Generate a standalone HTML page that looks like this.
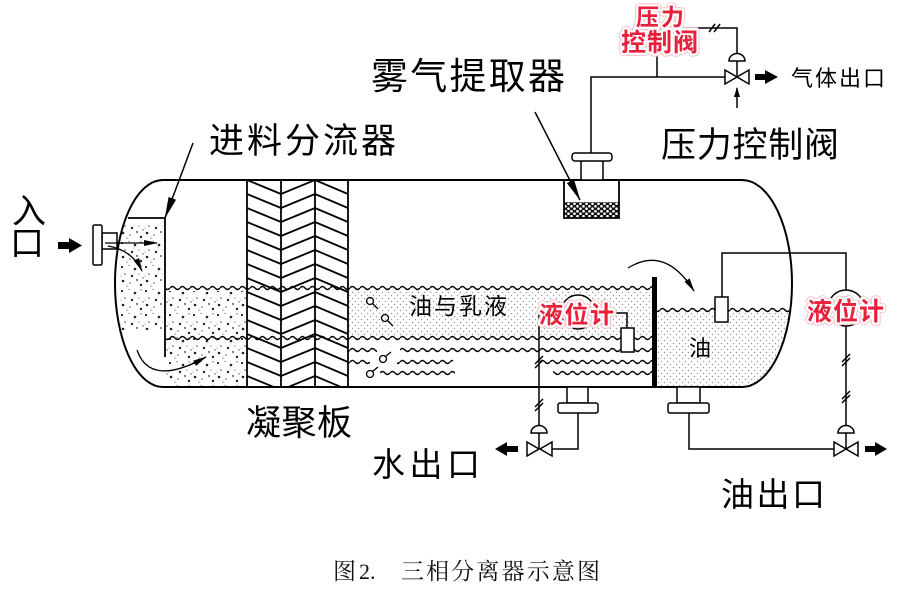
<!DOCTYPE html>
<html>
<head>
<meta charset="utf-8">
<style>
  html,body{margin:0;padding:0;background:#fff;}
  body{width:908px;height:591px;overflow:hidden;}
  svg{display:block;}
  .t{font-family:"Liberation Sans","Noto Sans CJK SC",sans-serif;fill:#000;}
  .r{font-family:"Liberation Sans","Noto Sans CJK SC",sans-serif;font-weight:700;}
  .cap{font-family:"Liberation Serif","Noto Serif CJK SC",serif;fill:#111;}
</style>
</head>
<body>
<svg width="908" height="591" viewBox="0 0 908 591" xmlns="http://www.w3.org/2000/svg">
  <defs>
    <clipPath id="vin">
      <path d="M163,181 L742,181 A49,102.5 0 0 1 742,386 L163,386 A47,102.5 0 0 1 163,181 Z"/>
    </clipPath>
    <clipPath id="plates">
      <rect x="247" y="181" width="101" height="205"/>
    </clipPath>
    <pattern id="wv" width="10" height="8" patternUnits="userSpaceOnUse">
      <path d="M0,4 Q2.5,1 5,4 T10,4" fill="none" stroke="#000" stroke-width="1.4"/>
    </pattern>
    <pattern id="coarse" width="24" height="24" patternUnits="userSpaceOnUse">
      <circle cx="2" cy="3" r="1.1" fill="#222"/>
      <circle cx="9" cy="1.5" r="0.6" fill="#666"/>
      <circle cx="15" cy="5" r="1.3" fill="#222"/>
      <circle cx="21" cy="2" r="0.7" fill="#555"/>
      <circle cx="5" cy="10" r="0.8" fill="#444"/>
      <circle cx="12" cy="12" r="1.2" fill="#222"/>
      <circle cx="19" cy="10" r="0.6" fill="#666"/>
      <circle cx="3" cy="17" r="1.3" fill="#222"/>
      <circle cx="10" cy="19" r="0.7" fill="#555"/>
      <circle cx="17" cy="16" r="0.9" fill="#333"/>
      <circle cx="21" cy="21" r="1.2" fill="#222"/>
      <circle cx="7" cy="22" r="0.6" fill="#666"/>
      <circle cx="14" cy="8" r="0.5" fill="#777"/>
      <circle cx="23" cy="14" r="0.7" fill="#555"/>
      <circle cx="1" cy="12" r="0.5" fill="#777"/>
    </pattern>
    <pattern id="fine" width="6" height="6" patternUnits="userSpaceOnUse">
      <circle cx="1.5" cy="1.5" r="0.7" fill="#9a9a9a"/>
      <circle cx="4.5" cy="4.5" r="0.7" fill="#9a9a9a"/>
    </pattern>
    <pattern id="mesh" width="6" height="5" patternUnits="userSpaceOnUse">
      <rect width="6" height="5" fill="#111"/>
      <circle cx="1.5" cy="1.25" r="1.35" fill="#fff"/>
      <circle cx="4.5" cy="3.75" r="1.35" fill="#fff"/>
    </pattern>
    <marker id="ah" viewBox="0 0 22 8" refX="21" refY="4" markerWidth="22" markerHeight="8" markerUnits="userSpaceOnUse" orient="auto">
      <path d="M0,0 L22,4 L0,8 z" fill="#000"/>
    </marker>
    <marker id="ahs" viewBox="0 0 14 6" refX="13" refY="3" markerWidth="14" markerHeight="6" markerUnits="userSpaceOnUse" orient="auto">
      <path d="M0,0 L14,3 L0,6 z" fill="#000"/>
    </marker>
    <marker id="aht" viewBox="0 0 10 6" refX="9" refY="3" markerWidth="10" markerHeight="6" markerUnits="userSpaceOnUse" orient="auto">
      <path d="M0,0 L10,3 L0,6 z" fill="#000"/>
    </marker>
  </defs>

  <rect width="908" height="591" fill="#fff"/>

  <!-- dotted regions -->
  <g clip-path="url(#vin)">
    <rect x="120" y="224" width="43" height="106" fill="url(#coarse)"/>
    <rect x="166" y="291" width="81" height="96" fill="url(#coarse)"/>
    <rect x="349" y="291" width="303" height="45" fill="url(#fine)"/>
    <rect x="657" y="313" width="140" height="74" fill="url(#fine)"/>
  </g>

  <!-- coalescing plates -->
  <g>
    <rect x="247" y="181" width="101" height="205" fill="#fff"/>
    <g clip-path="url(#plates)" fill="none" stroke="#000" stroke-width="1.8">
      <polyline points="247,166 281,180 315,166 348,180"/>
      <polyline points="247,180 281,194 315,180 348,194"/>
      <polyline points="247,194 281,208 315,194 348,208"/>
      <polyline points="247,208 281,222 315,208 348,222"/>
      <polyline points="247,222 281,236 315,222 348,236"/>
      <polyline points="247,236 281,250 315,236 348,250"/>
      <polyline points="247,250 281,264 315,250 348,264"/>
      <polyline points="247,264 281,278 315,264 348,278"/>
      <polyline points="247,278 281,292 315,278 348,292"/>
      <polyline points="247,292 281,306 315,292 348,306"/>
      <polyline points="247,306 281,320 315,306 348,320"/>
      <polyline points="247,320 281,334 315,320 348,334"/>
      <polyline points="247,334 281,348 315,334 348,348"/>
      <polyline points="247,348 281,362 315,348 348,362"/>
      <polyline points="247,362 281,376 315,362 348,376"/>
      <polyline points="247,376 281,390 315,376 348,390"/>
      <polyline points="247,390 281,404 315,390 348,404"/>
    </g>
    <g stroke="#000" stroke-width="1.8">
      <line x1="247" y1="180" x2="247" y2="387"/>
      <line x1="281" y1="180" x2="281" y2="387"/>
      <line x1="315" y1="180" x2="315" y2="387"/>
      <line x1="348" y1="180" x2="348" y2="387"/>
    </g>
  </g>

  <!-- wavy liquid lines -->
  <g clip-path="url(#vin)">
    <g transform="translate(0,284)"><rect x="166" y="0" width="486" height="8" fill="url(#wv)"/></g>
    <g transform="translate(0,334)"><rect x="166" y="0" width="486" height="8" fill="url(#wv)"/></g>
    <g transform="translate(0,346)">
      <rect x="348" y="0" width="29" height="8" fill="url(#wv)"/>
      <rect x="400" y="0" width="252" height="8" fill="url(#wv)"/>
    </g>
    <g transform="translate(0,358)">
      <rect x="348" y="0" width="22" height="8" fill="url(#wv)"/>
      <rect x="397" y="0" width="56" height="8" fill="url(#wv)"/>
      <rect x="540" y="0" width="112" height="8" fill="url(#wv)"/>
    </g>
    <g transform="translate(0,369)">
      <rect x="380" y="0" width="75" height="8" fill="url(#wv)"/>
      <rect x="553" y="0" width="99" height="8" fill="url(#wv)"/>
    </g>
    <g transform="translate(0,306)"><rect x="657" y="0" width="140" height="8" fill="url(#wv)"/></g>
  </g>

  <!-- vessel outline -->
  <path d="M163,180 L742,180 A50,103.5 0 0 1 742,387 L163,387 A48,103.5 0 0 1 163,180 Z" fill="none" stroke="#000" stroke-width="2"/>

  <!-- feed diverter -->
  <g stroke="#000" stroke-width="1.8" fill="none">
    <line x1="128" y1="218" x2="165" y2="218"/>
    <line x1="165" y1="218" x2="165" y2="357"/>
  </g>

  <!-- weir -->
  <line x1="654.5" y1="277" x2="654.5" y2="387" stroke="#000" stroke-width="5"/>

  <!-- inlet nozzle -->
  <rect x="102" y="233" width="15" height="16" fill="#fff" stroke="#000" stroke-width="1.5"/>
  <rect x="93" y="225" width="9" height="40" rx="1.5" fill="#fff" stroke="#000" stroke-width="1.5"/>
  <rect x="58" y="242" width="12" height="7" fill="#000"/>
  <polygon points="69,238 82,245.5 69,253" fill="#000"/>

  <!-- internal flow arrows -->
  <g fill="none" stroke="#000" stroke-width="1.3">
    <line x1="105" y1="243" x2="157" y2="243" marker-end="url(#ahs)"/>
    <path d="M108,246 Q132,250 142,271" marker-end="url(#ahs)"/>
    <path d="M137,350 Q150,388 206,357" marker-end="url(#ahs)"/>
    <path d="M628,268 Q665,245 694,291" marker-end="url(#ahs)"/>
  </g>

  <!-- label arrows -->
  <g stroke="#000" stroke-width="1.5" fill="none">
    <line x1="193" y1="143" x2="165" y2="218" marker-end="url(#ah)"/>
    <line x1="535" y1="112" x2="580" y2="200" marker-end="url(#ah)"/>
  </g>

  <!-- bubbles -->
  <g fill="none" stroke="#000" stroke-width="1.3">
    <circle cx="370" cy="301" r="3.5"/><line x1="372.5" y1="303.5" x2="378" y2="309"/>
    <circle cx="385" cy="318" r="3.5"/><line x1="387.5" y1="320.5" x2="393" y2="326"/>
    <circle cx="383" cy="359" r="3.5"/><line x1="385.5" y1="356.5" x2="391" y2="352"/>
    <circle cx="370" cy="374" r="3.5"/><line x1="372.5" y1="371.5" x2="378" y2="367"/>
  </g>

  <!-- mist extractor -->
  <rect x="564" y="202" width="55" height="16" fill="url(#mesh)"/>
  <path d="M564,180 L564,218 L619,218 L619,180" fill="none" stroke="#000" stroke-width="1.8"/>
  <rect x="581" y="160" width="22" height="20" fill="#fff" stroke="#000" stroke-width="1.5"/>
  <rect x="572" y="153" width="40" height="8" rx="3" fill="#fff" stroke="#000" stroke-width="1.5"/>

  <!-- gas pipe & pressure valve -->
  <g fill="none" stroke="#000" stroke-width="1.5">
    <polyline points="591,153 591,77 725,77"/>
    <polyline points="657,77 657,28 737,28 737,53"/>
    <line x1="737" y1="61" x2="737" y2="77"/>
    <line x1="709" y1="32" x2="715" y2="24"/>
    <line x1="714" y1="32" x2="720" y2="24"/>
    <line x1="737" y1="108" x2="737" y2="88" marker-end="url(#aht)"/>
  </g>
  <path d="M729,61 A8,7.5 0 0 1 745,61 Z" fill="#fff" stroke="#000" stroke-width="1.5"/>
  <polygon points="725,70 737,77 725,84" fill="#fff" stroke="#000" stroke-width="1.5"/>
  <polygon points="749,70 737,77 749,84" fill="#fff" stroke="#000" stroke-width="1.5"/>
  <rect x="755" y="74" width="11" height="6" fill="#000"/>
  <polygon points="765,70 778,77 765,84" fill="#000"/>

  <!-- left (water) level gauge & outlet -->
  <g fill="none" stroke="#000" stroke-width="1.5">
    <line x1="539" y1="313" x2="539" y2="425"/>
    <polyline points="539,313 627,313 627,328"/>
    <line x1="535" y1="364" x2="543" y2="356"/>
    <line x1="535" y1="368" x2="543" y2="360"/>
    <line x1="535" y1="407" x2="543" y2="399"/>
    <line x1="535" y1="411" x2="543" y2="403"/>
    <polyline points="578,413 578,449 552,449"/>
  </g>
  <circle cx="578" cy="312" r="17" fill="#fff" stroke="#000" stroke-width="1.5"/>
  <rect x="621" y="328" width="13" height="24" fill="#fff" stroke="#000" stroke-width="1.5"/>
  <rect x="567" y="387" width="21" height="16" fill="#fff" stroke="#000" stroke-width="1.5"/>
  <rect x="558" y="403" width="40" height="10" rx="2" fill="#fff" stroke="#000" stroke-width="1.5"/>
  <path d="M531,433 A8,7.5 0 0 1 547,433 Z" fill="#fff" stroke="#000" stroke-width="1.5"/>
  <line x1="539" y1="433" x2="539" y2="449" stroke="#000" stroke-width="1.5"/>
  <polygon points="527,442 539,449 527,456" fill="#fff" stroke="#000" stroke-width="1.5"/>
  <polygon points="552,442 540,449 552,456" fill="#fff" stroke="#000" stroke-width="1.5"/>
  <polygon points="495,449 507,442 507,456" fill="#000"/>
  <rect x="506" y="446" width="12" height="6" fill="#000"/>

  <!-- right (oil) level gauge & outlet -->
  <g fill="none" stroke="#000" stroke-width="1.5">
    <polyline points="722,297 722,253 846,253 846,290"/>
    <line x1="846" y1="326" x2="846" y2="425"/>
    <line x1="842" y1="362" x2="850" y2="354"/>
    <line x1="842" y1="366" x2="850" y2="358"/>
    <line x1="842" y1="399" x2="850" y2="391"/>
    <line x1="842" y1="403" x2="850" y2="395"/>
    <polyline points="689,413 689,449 834,449"/>
  </g>
  <rect x="715" y="297" width="13" height="25" fill="#fff" stroke="#000" stroke-width="1.5"/>
  <circle cx="846" cy="308" r="18" fill="#fff" stroke="#000" stroke-width="1.5"/>
  <rect x="677" y="387" width="23" height="16" fill="#fff" stroke="#000" stroke-width="1.5"/>
  <rect x="668" y="403" width="41" height="10" rx="2" fill="#fff" stroke="#000" stroke-width="1.5"/>
  <path d="M838,433 A8,7.5 0 0 1 854,433 Z" fill="#fff" stroke="#000" stroke-width="1.5"/>
  <line x1="846" y1="433" x2="846" y2="449" stroke="#000" stroke-width="1.5"/>
  <polygon points="834,442 846,449 834,456" fill="#fff" stroke="#000" stroke-width="1.5"/>
  <polygon points="858,442 846,449 858,456" fill="#fff" stroke="#000" stroke-width="1.5"/>
  <rect x="865" y="446" width="11" height="6" fill="#000"/>
  <polygon points="875,442 887,449 875,456" fill="#000"/>

  <!-- black labels -->
  <text class="t" x="12" y="223" font-size="34">入</text>
  <text class="t" x="10" y="255" font-size="34">口</text>
  <text class="t" x="209" y="153" font-size="35" textLength="187">进料分流器</text>
  <text class="t" x="371" y="89" font-size="37" textLength="194">雾气提取器</text>
  <text class="t" x="661" y="157" font-size="35" textLength="178">压力控制阀</text>
  <text class="t" x="791" y="86" font-size="22" textLength="94">气体出口</text>
  <text class="t" x="246" y="435" font-size="35" textLength="106">凝聚板</text>
  <text class="t" x="372" y="476" font-size="33" textLength="108">水出口</text>
  <text class="t" x="721" y="506" font-size="33" textLength="104">油出口</text>
  <text class="t" x="409" y="314" font-size="23" textLength="98">油与乳液</text>
  <text class="t" x="689" y="356" font-size="22">油</text>

  <!-- red labels -->
  <g class="r" stroke-linejoin="round">
    <g stroke="#f6c3c9" stroke-width="6.5" fill="none">
      <text x="539" y="323" font-size="24" textLength="75">液位计</text>
      <text x="807" y="320" font-size="25" textLength="77">液位计</text>
      <text x="636" y="25" font-size="23" textLength="48">压力</text>
      <text x="621" y="51" font-size="25" textLength="77">控制阀</text>
    </g>
    <g stroke="#fff" stroke-width="4.5" fill="#e8203c" paint-order="stroke">
      <text x="539" y="323" font-size="24" textLength="75">液位计</text>
      <text x="807" y="320" font-size="25" textLength="77">液位计</text>
      <text x="636" y="25" font-size="23" textLength="48">压力</text>
      <text x="621" y="51" font-size="25" textLength="77">控制阀</text>
    </g>
  </g>

  <!-- caption -->
  <text class="cap" x="333" y="579" font-size="23">图</text>
  <text class="cap" x="359" y="579" font-size="22">2.</text>
  <text class="cap" x="401" y="579" font-size="23" textLength="199">三相分离器示意图</text>
</svg>
</body>
</html>
